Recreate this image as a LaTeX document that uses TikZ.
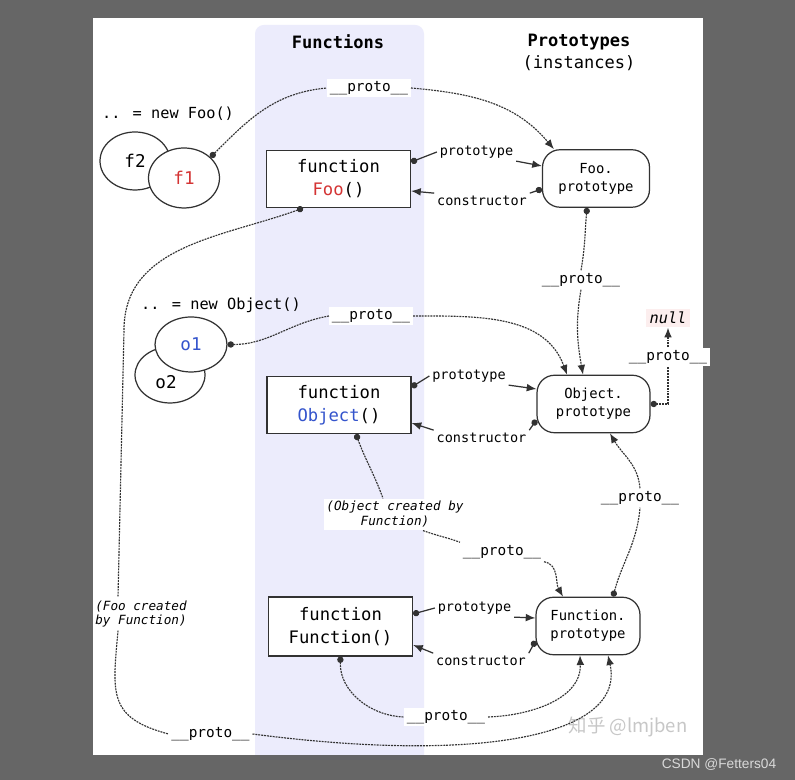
\documentclass[tikz,border=0pt]{standalone}
\usepackage{fontspec}
\setmainfont{DejaVu Sans Mono}
\newfontfamily\cjkfont{Noto Sans CJK SC}
\newfontfamily\wmfont{Liberation Sans}
\usetikzlibrary{shapes.geometric,arrows.meta,positioning}
\definecolor{bggray}{RGB}{102,102,102}
\definecolor{colfill}{RGB}{236,236,252}
\definecolor{linegray}{RGB}{50,50,50}
\definecolor{foored}{RGB}{212,52,52}
\definecolor{objblue}{RGB}{52,84,204}
\definecolor{nullpink}{RGB}{252,238,238}

\begin{document}
\begin{tikzpicture}[x=0.02cm, y=0.02cm, >={Latex[length=5.5pt,width=4.4pt]}]
	%define block styles
	\tikzset{
		fnbox/.style={rectangle, minimum width=28.8mm, minimum height=11.4mm, align=center, draw=linegray, line width=0.7pt, fill=white, font=\fontsize{9.8}{13}\selectfont},
		protobox/.style={rectangle, rounded corners=10pt, minimum height=11.5mm, align=center, draw=linegray, line width=0.7pt, fill=white, font=\fontsize{7.9}{10.2}\selectfont},
		inst/.style={ellipse, draw=linegray, line width=0.7pt, fill=white, inner sep=0pt, font=\fontsize{10}{12}\selectfont},
		lbl/.style={fill=white, inner sep=1.5pt, font=\fontsize{7.7}{9}\selectfont},
		protolbl/.style={fill=white, inner sep=1.5pt, font=\fontsize{8.2}{9}\selectfont},
		note/.style={fill=white, inner sep=1.5pt, font=\itshape\fontsize{7.2}{8.5}\selectfont},
		link/.style={draw=linegray, line width=0.7pt},
		dotlink/.style={draw=linegray, line width=0.65pt, dash pattern=on 1.1pt off 0.55pt},
		dotstart/.style={arrows={Circle[length=3.6pt]-}},
		arrowend/.style={->},}
	%background
	\fill[bggray] (0,0) rectangle (795,780);
	\fill[white] (93,25) rectangle (703,762);
	\begin{scope}
		\clip (93,25) rectangle (703,762);
		\fill[colfill, rounded corners=5pt] (255,0) rectangle (424,755);
	\end{scope}
	\useasboundingbox (0,0) rectangle (795,780);
	%define nodes
	\node[font=\bfseries\fontsize{9.7}{12}\selectfont] (hfn) at (338,738) {Functions};
	\node[align=center, font=\fontsize{9.7}{13}\selectfont] (hproto) at (579,727.5) {\textbf{Prototypes}\\(instances)};
	\node[font=\fontsize{8.7}{10}\selectfont] (newfoo) at (168,666) {.. = new Foo()};
	\node[inst, minimum width=14mm, minimum height=11.6mm] (f2) at (135,619) {f2};
	\node[inst, minimum width=14.2mm, minimum height=12mm, text=foored] (f1) at (184,602) {f1};
	\node[fnbox] (foofn) at (338.5,601) {function\\\textcolor{foored}{Foo}()};
	\node[protobox, minimum width=21.4mm] (fooproto) at (596,601.5) {Foo.\\prototype};
	\node[font=\fontsize{8.7}{10}\selectfont] (newobj) at (221,475) {.. = new Object()};
	\node[inst, minimum width=14mm, minimum height=11.2mm] (o2) at (170,405) {};
	\node[font=\fontsize{10}{12}\selectfont] (o2t) at (166,398) {o2};
	\node[inst, minimum width=14.4mm, minimum height=11mm, text=objblue] (o1) at (191,435.5) {o1};
	\node[fnbox] (objfn) at (339,375) {function\\\textcolor{objblue}{Object}()};
	\node[protobox, minimum width=22.6mm] (objproto) at (593.5,376) {Object.\\prototype};
	\node[fill=nullpink, inner sep=2pt, font=\itshape\fontsize{8.7}{10}\selectfont] (nul) at (668,462) {null};
	\node[fnbox, minimum height=11.8mm] (fnfn) at (340.5,153.5) {function\\Function()};
	\node[protobox, minimum width=20.8mm] (fnproto) at (588,154) {Function.\\prototype};
	\node[note, align=center] (objnote) at (395,265.5) {(Object created by\\Function)};
	\node[note, align=left] (foonote) at (141,166) {(Foo created\\by Function)};
	%define labels
	\node[protolbl] (pf1) at (369,692) {\_\_proto\_\_};
	\node[lbl] (fooptl) at (476.5,628) {prototype};
	\node[lbl] (fooctl) at (482,579) {constructor};
	\node[protolbl] (pfoo) at (581,500) {\_\_proto\_\_};
	\node[protolbl] (po1) at (371,464) {\_\_proto\_\_};
	\node[lbl] (objptl) at (469,404) {prototype};
	\node[lbl] (objctl) at (481.5,342) {constructor};
	\node[protolbl] (pobj) at (668,423) {\_\_proto\_\_};
	\node[protolbl] (pfnobj) at (640,282) {\_\_proto\_\_};
	\node[protolbl] (pobjfn) at (502,228) {\_\_proto\_\_};
	\node[lbl] (fnptl) at (474.5,172) {prototype};
	\node[lbl] (fnctl) at (481,119) {constructor};
	\node[protolbl] (pfnfn) at (446,63) {\_\_proto\_\_};
	\node[protolbl] (pfoofn) at (210.5,46) {\_\_proto\_\_};
	\node[text=black!22, font=\cjkfont\fontsize{10.5}{12}\selectfont] (wmzh) at (628,53) {知乎 @lmjben};
	\node[text=black!15, font=\wmfont\fontsize{7.8}{9}\selectfont] (wmcsdn) at (719,16) {CSDN @Fetters04};
	%define links
	\draw[dotlink, dotstart] (f1.38) to[out=45,in=185] (pf1.west);
	\draw[dotlink, arrowend] (pf1.east) to[out=-5,in=130] ([xshift=2.4mm]fooproto.north west);
	\draw[link, dotstart] ([yshift=3.4mm]foofn.east) -- (fooptl.west);
	\draw[link, arrowend] (fooptl.south east) -- ([yshift=2.5mm]fooproto.west);
	\draw[link, dotstart] ([yshift=-2.1mm]fooproto.west) -- (fooctl.north east);
	\draw[link, arrowend] (fooctl.north west) -- ([yshift=-2.4mm]foofn.east);
	\draw[dotlink, dotstart] ([xshift=-1.8mm]fooproto.south) to[out=-95,in=80] (pfoo.north);
	\draw[dotlink, arrowend] (pfoo.south) to[out=-100,in=100] ([xshift=-2.1mm]objproto.north);
	\draw[dotlink, dotstart] (o1.east) to[out=0,in=190] (po1.west);
	\draw[dotlink, arrowend] (po1.east) to[out=0,in=110] ([xshift=-5.3mm]objproto.north);
	\draw[link, dotstart] ([yshift=3.6mm]objfn.east) -- (objptl.west);
	\draw[link, arrowend] (objptl.south east) -- ([yshift=3mm]objproto.west);
	\draw[link, dotstart] ([yshift=-3.2mm]objproto.west) -- (objctl.north east);
	\draw[link, arrowend] (objctl.north west) -- ([yshift=-3.6mm]objfn.east);
	\draw[dotlink, dotstart] (objproto.east) -| (pobj.south);
	\draw[dotlink, arrowend] (pobj.north) -- (nul.south);
	\draw[dotlink, dotstart] ([xshift=5mm]fnproto.north) to[out=75,in=-95] (pfnobj.south);
	\draw[dotlink, arrowend] (pfnobj.north) to[out=95,in=-60] ([xshift=3.3mm]objproto.south);
	\draw[dotlink, dotstart] ([xshift=3.4mm]objfn.south) to[out=-70,in=110] ([xshift=-2.4mm]objnote.north);
	\draw[dotlink] ([xshift=5.6mm]objnote.south) to[out=-20,in=160] (pobjfn.north west);
	\draw[dotlink, arrowend] (pobjfn.south east) to[out=-10,in=120] ([xshift=-5mm]fnproto.north);
	\draw[link, dotstart] ([yshift=2.5mm]fnfn.east) -- (fnptl.west);
	\draw[link, arrowend] (fnptl.south east) -- ([yshift=1.6mm]fnproto.west);
	\draw[link, dotstart] ([yshift=-3mm]fnproto.west) -- (fnctl.north east);
	\draw[link, arrowend] (fnctl.north west) -- ([yshift=-3.7mm]fnfn.east);
	\draw[dotlink, dotstart] (fnfn.south) to[out=-92,in=178] (pfnfn.west);
	\draw[dotlink, arrowend] (pfnfn.east) to[out=2,in=-88] ([xshift=-1.6mm]fnproto.south);
	\draw[dotlink, dotstart] ([xshift=-7.1mm]foofn.south) to[out=200,in=90] (124,450) -- ([xshift=-4.6mm]foonote.north);
	\draw[dotlink] ([xshift=-4.6mm]foonote.south) to[out=-95,in=165,looseness=1.4] (pfoofn.west);
	\draw[dotlink, arrowend] (pfoofn.east) .. controls +(230,-30) and +(18,-80) .. ([xshift=4mm]fnproto.south);
\end{tikzpicture}
\end{document}
